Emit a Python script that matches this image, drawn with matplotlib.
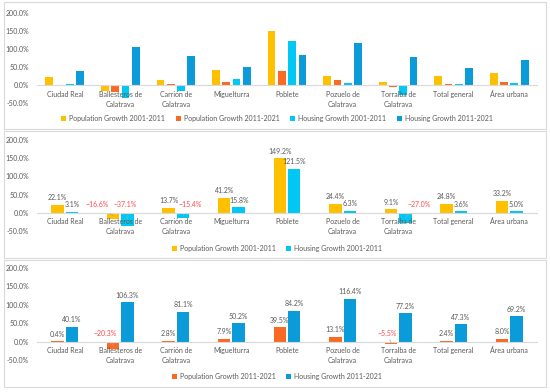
import matplotlib
matplotlib.use("Agg")
import matplotlib.pyplot as plt
from matplotlib.patches import Rectangle
from matplotlib.ticker import FuncFormatter
import numpy as np

plt.rcParams['font.family'] = ['Lato', 'DejaVu Sans']

# data (percent growth)
categories = ["Ciudad Real", "Ballesteros de\nCalatrava", "Carrión de\nCalatrava", "Miguelturra",
              "Poblete", "Pozuelo de\nCalatrava", "Torralba de\nCalatrava", "Total general", "Área urbana"]
pop_01_11 = [22.1, -16.6, 13.7, 41.2, 149.2, 24.4, 9.1, 24.8, 33.2]
pop_11_21 = [0.4, -20.3, 2.8, 7.9, 39.5, 13.1, -5.5, 2.4, 8.0]
hou_01_11 = [3.1, -37.1, -15.4, 15.8, 121.5, 6.3, -27.0, 3.6, 5.0]
hou_11_21 = [40.1, 106.3, 81.1, 50.2, 84.2, 116.4, 77.2, 47.3, 69.2]

series = {
    "Population Growth 2001-2011": (pop_01_11, "#FFC000"),
    "Population Growth 2011-2021": (pop_11_21, "#FA6A24"),
    "Housing Growth 2001-2011": (hou_01_11, "#00C8F5"),
    "Housing Growth 2011-2021": (hou_11_21, "#0A9BD8"),
}

W, H = 550, 392
GRAY = "#595959"
RED = "#FF4B4B"

fig = plt.figure(figsize=(W / 100, H / 100), dpi=100)


def px_rect(x0, y0, x1, y1):
    # pixel box (top-left origin) -> figure fraction
    return [x0 / W, 1 - y1 / H, (x1 - x0) / W, (y1 - y0) / H]


# panel frames
for top, bot in [(2, 129), (131, 258), (260, 387)]:
    fig.patches.append(Rectangle((4 / W, 1 - bot / H), 542 / W, (bot - top) / H,
                                 transform=fig.transFigure, fill=False,
                                 edgecolor="#D9D9D9", linewidth=0.8))


def setup_axes(ax):
    ax.set_ylim(-50, 200)
    ax.set_xlim(-0.5, len(categories) - 0.5)
    ax.set_yticks([-50, 0, 50, 100, 150, 200])
    ax.yaxis.set_major_formatter(FuncFormatter(lambda v, p: f"{v:.1f}%"))
    for s in ["top", "right", "left"]:
        ax.spines[s].set_visible(False)
    ax.spines["bottom"].set_position(("data", 0))
    ax.spines["bottom"].set_color("#D9D9D9")
    ax.spines["bottom"].set_linewidth(0.8)
    ax.set_xticks(range(len(categories)))
    ax.set_xticklabels(categories, fontsize=5, color=GRAY, linespacing=1.5)
    ax.tick_params(axis="x", length=0, pad=4)
    ax.tick_params(axis="y", length=0, labelsize=5, labelcolor=GRAY, pad=6)
    ax.set_facecolor("none")


x = np.arange(len(categories))

# panel 1: all four series
ax1 = fig.add_axes(px_rect(37, 13, 537, 103))
setup_axes(ax1)
w1, step1 = 0.14, 0.185
handles = []
for i, (name, (vals, col)) in enumerate(series.items()):
    b = ax1.bar(x + (i - 1.5) * step1, vals, w1, color=col, label=name)
    handles.append(b)
fig.legend(handles=handles, loc="center", bbox_to_anchor=(277 / W, 1 - 118 / H), ncol=4,
           frameon=False, fontsize=5, labelcolor=GRAY, handlelength=0.7, handleheight=0.7,
           handletextpad=0.4, columnspacing=1.6)

# label offsets for negative values (x shift in category units)
neg_dx = {(1, 0): -0.28, (1, 1): -0.04, (2, 1): 0.13, (6, 1): 0.24}
neg_dx3 = {(1, 0): -0.15, (6, 0): -0.06}


def two_series_panel(rect, names, dxmap, legend_y):
    ax = fig.add_axes(rect)
    setup_axes(ax)
    w, off = 0.225, 0.13
    hs = []
    for j, name in enumerate(names):
        vals, col = series[name]
        pos = x + (2 * j - 1) * off
        hs.append(ax.bar(pos, vals, w, color=col, label=name))
        for k, v in enumerate(vals):
            if v >= 0:
                ax.annotate(f"{v:.1f}%", (pos[k], v), xytext=(0, 2.5), textcoords="offset points",
                            ha="center", va="bottom", fontsize=5, color=GRAY)
            else:
                lx = pos[k] + dxmap.get((k, j), 0)
                ax.annotate(f"−{abs(v):.1f}%", (pos[k], v / 2), xytext=(lx, 22), textcoords="data",
                            ha="center", va="center", fontsize=5, color=RED,
                            arrowprops=dict(arrowstyle="-", color="#A6A6A6", lw=0.5,
                                            shrinkA=3, shrinkB=0))
    fig.legend(handles=hs, loc="center", bbox_to_anchor=(277 / W, 1 - legend_y / H), ncol=2,
               frameon=False, fontsize=5, labelcolor=GRAY, handlelength=0.7, handleheight=0.7,
               handletextpad=0.4, columnspacing=1.6)
    return ax


two_series_panel(px_rect(37, 140, 537, 231),
                 ["Population Growth 2001-2011", "Housing Growth 2001-2011"], neg_dx, 248)
two_series_panel(px_rect(37, 268, 537, 360),
                 ["Population Growth 2011-2021", "Housing Growth 2011-2021"], neg_dx3, 376)

fig.savefig("out.png", dpi=100, facecolor="white")
